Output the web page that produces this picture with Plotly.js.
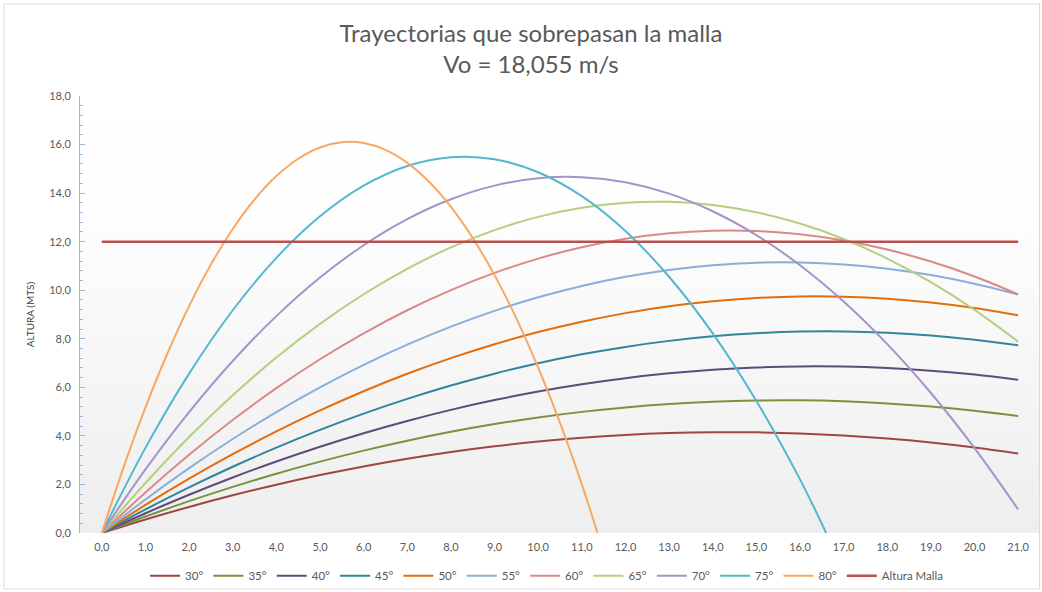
<!DOCTYPE html>
<html><head><meta charset="utf-8">
<script src="https://cdn.plot.ly/plotly-3.0.1.min.js"></script>
<style>html,body{margin:0;padding:0;background:#fff}#chart{width:1042px;height:592px}</style>
</head><body><div id="chart"></div>
<script>
const xs = [0,1,2,3,4,5,6,7,8,9,10,11,12,13,14,15,16,17,18,19,20,21];
const y30 = [0,0.557,1.074,1.552,1.988,2.385,2.742,3.058,3.335,3.571,3.767,3.923,4.039,4.115,4.151,4.146,4.102,4.017,3.892,3.727,3.522,3.277];
const y35 = [0,0.678,1.311,1.899,2.442,2.940,3.394,3.803,4.167,4.486,4.760,4.989,5.173,5.313,5.408,5.458,5.463,5.423,5.338,5.209,5.035,4.815];
const y40 = [0,0.813,1.576,2.287,2.946,3.554,4.112,4.617,5.072,5.475,5.827,6.127,6.377,6.575,6.722,6.817,6.861,6.854,6.796,6.686,6.525,6.313];
const y45 = [0,0.970,1.880,2.729,3.518,4.248,4.917,5.525,6.074,6.562,6.991,7.359,7.666,7.914,8.102,8.229,8.296,8.303,8.250,8.136,7.962,7.729];
const y50 = [0,1.155,2.238,3.248,4.184,5.048,5.839,6.558,7.203,7.776,8.276,8.703,9.057,9.338,9.547,9.682,9.745,9.735,9.652,9.496,9.268,8.966];
const y55 = [0,1.382,2.673,3.873,4.981,5.997,6.922,7.756,8.498,9.149,9.708,10.175,10.552,10.836,11.030,11.131,11.142,11.061,10.888,10.624,10.268,9.821];
const y60 = [0,1.672,3.223,4.655,5.965,7.156,8.226,9.175,10.004,10.713,11.302,11.770,12.118,12.345,12.452,12.438,12.305,12.051,11.676,11.181,10.566,9.830];
const y65 = [0,2.060,3.952,5.675,7.230,8.616,9.834,10.884,11.764,12.477,13.020,13.396,13.603,13.641,13.511,13.212,12.745,12.109,11.305,10.333,9.191,7.882];
const y70 = [0,2.619,4.980,7.085,8.932,10.522,11.854,12.930,13.747,14.308,14.612,14.658,14.447,13.979,13.253,12.270,11.030,9.533,7.778,5.766,3.497,0.971];
const x75 = [0,1,2,3,4,5,6,7,8,9,10,11,12,13,14,15,16,16.6];
const y75 = [0,3.507,6.566,9.175,11.334,13.045,14.306,15.118,15.480,15.394,14.858,13.873,12.439,10.555,8.222,5.440,2.209,0];
const x80 = [0,0.5,1,1.5,2,2.5,3,3.5,4,4.5,5,5.5,6,6.5,7,7.5,8,8.5,9,9.5,10,10.5,11,11.36];
const y80 = [0,2.711,5.172,7.384,9.347,11.059,12.523,13.737,14.701,15.416,15.881,16.097,16.063,15.780,15.247,14.465,13.434,12.152,10.622,8.841,6.812,4.532,2.004,0];
const xMalla = [0,21];
const yMalla = [12,12];
const names = ['30°','35°','40°','45°','50°','55°','60°','65°','70°','75°','80°','Altura Malla'];
const xTicks = [0,1,2,3,4,5,6,7,8,9,10,11,12,13,14,15,16,17,18,19,20,21];

const colors = ['#A04545','#77933C','#604A7B','#31859C','#E46C0A','#8AAEDB','#D98A88','#B3D07F','#A593CB','#53B8CE','#F8A862','#B9504E'];
const seriesX = [xs,xs,xs,xs,xs,xs,xs,xs,xs,x75,x80,xMalla];
const seriesY = [y30,y35,y40,y45,y50,y55,y60,y65,y70,y75,y80,yMalla];

const traces = seriesY.map((y,i)=>({
  type:'scatter', mode:'lines', x:seriesX[i], y:y, name:names[i],
  line:{color:colors[i], width: i===11 ? 2.5 : 2, shape: i===11 ? 'linear' : 'spline', smoothing:1},
  hoverinfo:'x+y+name'
}));

const svg = "<svg xmlns='http://www.w3.org/2000/svg' width='100' height='100' preserveAspectRatio='none'><defs><linearGradient id='g' x1='0' y1='0' x2='0' y2='1'><stop offset='0' stop-color='#ffffff'/><stop offset='0.25' stop-color='#fefefe'/><stop offset='1' stop-color='#eeeeee'/></linearGradient></defs><rect width='100' height='100' fill='url(#g)'/></svg>";
const bg = 'data:image/svg+xml;charset=utf-8,' + encodeURIComponent(svg);

const font = 'Lato, "Open Sans", sans-serif';
const layout = {
  width:1042, height:592,
  margin:{l:80, r:2, t:96, b:59},
  paper_bgcolor:'#ffffff', plot_bgcolor:'rgba(0,0,0,0)',
  separators:',.',
  font:{family:font, color:'#595959', size:11},
  title:{text:'Trayectorias que sobrepasan la malla<br>Vo = 18,055 m/s', font:{family:font, size:24, color:'#595959'},
    xref:'container', x:0.5096, xanchor:'center', yref:'container', y:0.929, yanchor:'top'},
  xaxis:{range:[-0.5,21.5], tickvals:xTicks, tickformat:'.1f', showgrid:false, zeroline:false, showline:false,
    ticks:'', ticklabelstandoff:6, tickfont:{size:11, color:'#595959'}, fixedrange:true},
  yaxis:{range:[0,18], dtick:2, tickformat:'.1f', showgrid:false, zeroline:false, showline:true, linecolor:'#9DB5D8', linewidth:1,
    ticks:'inside', ticklen:5, tickcolor:'#9DB5D8', ticklabelstandoff:6,
    minor:{dtick:0.4, ticks:'inside', ticklen:3, tickcolor:'#9DB5D8'},
    tickfont:{size:11, color:'#595959'},
    title:{text:'ALTURA (MTS)', font:{size:10, color:'#404040'}, standoff:12}, fixedrange:true},
  legend:{orientation:'h', x:0.486, xanchor:'center', y:-0.098, yanchor:'middle', font:{size:11.5, color:'#595959'}, bgcolor:'rgba(0,0,0,0)', itemwidth:30},
  images:[{source:bg, xref:'paper', yref:'paper', x:0, y:1, sizex:1, sizey:1, xanchor:'left', yanchor:'top', sizing:'stretch', layer:'below'}],
  shapes:[{type:'rect', xref:'paper', yref:'paper', x0:-0.0792, x1:0.9995, y0:-0.128, y1:1.2105, line:{color:'#d9d9d9', width:1}, fillcolor:'rgba(0,0,0,0)', layer:'below'}],
  showlegend:true
};
Plotly.newPlot('chart', traces, layout, {displayModeBar:false, staticPlot:true});
</script>
</body></html>
